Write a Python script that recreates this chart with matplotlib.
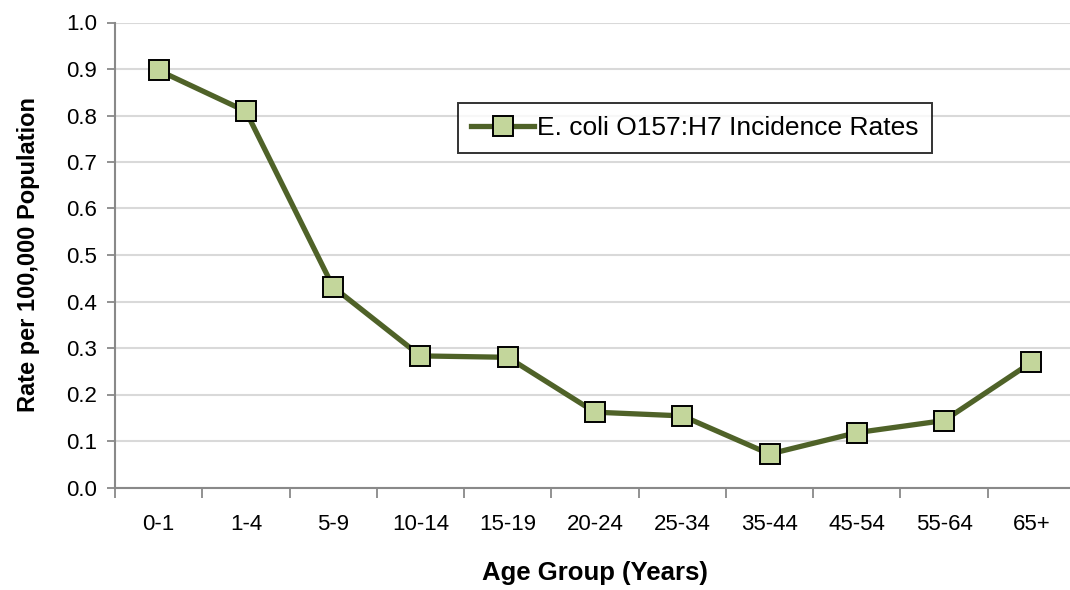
import matplotlib.pyplot as plt
from matplotlib.ticker import FixedLocator, MultipleLocator
import numpy as np

plt.rcParams['font.family'] = ['Liberation Sans', 'DejaVu Sans']

# Data
age_groups = ['0-1', '1-4', '5-9', '10-14', '15-19', '20-24',
              '25-34', '35-44', '45-54', '55-64', '65+']
rates = [0.897, 0.809, 0.431, 0.283, 0.280, 0.162,
         0.154, 0.072, 0.118, 0.144, 0.269]

LINE = '#4F6228'
FACE = '#C3D69B'
GRID = '#D9D9D9'
SPINE = '#898989'

fig = plt.figure(figsize=(10.7, 5.9), dpi=100)
fig.patch.set_facecolor('white')
ax = fig.add_axes([115 / 1070, 102.5 / 590, 960 / 1070, 465 / 590])

x = np.arange(len(age_groups))
ax.plot(x, rates, color=LINE, lw=3.8, marker='s', ms=14,
        mfc=FACE, mec='black', mew=1.4,
        label='E. coli O157:H7 Incidence Rates', zorder=3)

ax.set_xlim(-0.5, len(age_groups) - 0.5)
ax.set_ylim(0, 1.0)
ax.yaxis.set_major_locator(MultipleLocator(0.1))
ax.yaxis.set_major_formatter(plt.FormatStrFormatter('%.1f'))

ax.set_xticks(x)
ax.set_xticklabels(age_groups)
ax.xaxis.set_minor_locator(FixedLocator(np.arange(-0.5, len(age_groups), 1.0)))
ax.tick_params(axis='x', which='major', length=0, pad=19, labelsize=16)
ax.tick_params(axis='x', which='minor', length=7, width=1.3, color=SPINE)
ax.tick_params(axis='y', length=6, width=1.3, color=SPINE, labelsize=16, pad=7)

ax.grid(axis='y', color=GRID, lw=1.5, zorder=0)
ax.set_axisbelow(True)
for s in ['top', 'right']:
    ax.spines[s].set_visible(False)
for s in ['left', 'bottom']:
    ax.spines[s].set_color(SPINE)
    ax.spines[s].set_linewidth(1.5)

ax.set_xlabel('Age Group (Years)', fontsize=18.5, fontweight='bold', labelpad=19)
ax.set_ylabel('Rate per 100,000 Population', fontsize=17, fontweight='bold', labelpad=19)

leg = ax.legend(loc='upper left', bbox_to_anchor=(0.357, 0.827), fontsize=19,
                frameon=True, fancybox=False, edgecolor='black',
                handlelength=2.4, handletextpad=0.1, borderpad=0.5,
                borderaxespad=0)
leg.get_frame().set_linewidth(1.4)

fig.savefig('out.png', dpi=100, facecolor='white')
